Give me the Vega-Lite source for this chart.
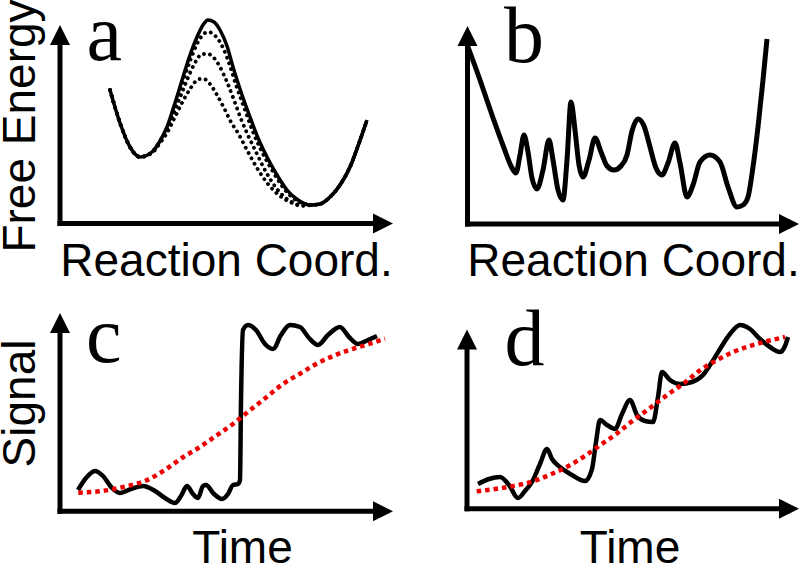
{
  "$schema": "https://vega.github.io/schema/vega-lite/v6.json",
  "padding": 0,
  "background": "white",
  "config": {
    "view": {"stroke": null},
    "concat": {"spacing": 0},
    "style": {
      "lt": {"font": "Liberation Serif", "fontSize": 80, "align": "left", "baseline": "alphabetic", "fill": "black"},
      "xt": {"font": "Liberation Sans", "fontSize": 46, "align": "center", "baseline": "alphabetic", "fill": "black"},
      "yt": {"font": "Liberation Sans", "fontSize": 46, "align": "center", "baseline": "alphabetic", "angle": 270, "fill": "black"}
    }
  },
  "data": {"values": [
    {"p":"a","k":"ax","x":60,"y":226,"x2":60,"y2":44},
    {"p":"a","k":"ax","x":57.5,"y":223.5,"x2":375,"y2":223.5},
    {"p":"a","k":"up","x":60,"y":35},
    {"p":"a","k":"rt","x":383,"y":223.5},
    {"p":"b","k":"ax","x":67.5,"y":226.5,"x2":67.5,"y2":44},
    {"p":"b","k":"ax","x":65,"y":224,"x2":381,"y2":224},
    {"p":"b","k":"up","x":67.5,"y":36},
    {"p":"b","k":"rt","x":389,"y":224},
    {"p":"c","k":"ax","x":60,"y":231.8,"x2":60,"y2":49},
    {"p":"c","k":"ax","x":57.5,"y":229.3,"x2":375,"y2":229.3},
    {"p":"c","k":"up","x":60,"y":41},
    {"p":"c","k":"rt","x":383,"y":229.3},
    {"p":"d","k":"ax","x":67,"y":229.2,"x2":67,"y2":66},
    {"p":"d","k":"ax","x":64.5,"y":226.7,"x2":381,"y2":226.7},
    {"p":"d","k":"up","x":67,"y":57.5},
    {"p":"d","k":"rt","x":389,"y":226.7},

    {"p":"a","k":"lt","x":86.5,"y":60,"t":"a"},
    {"p":"a","k":"yt","x":35,"y":126,"t":"Free Energy"},
    {"p":"a","k":"xt","x":226.5,"y":276,"t":"Reaction Coord."},
    {"p":"b","k":"lt","x":104,"y":62,"t":"b"},
    {"p":"b","k":"xt","x":233.5,"y":276,"t":"Reaction Coord."},
    {"p":"c","k":"lt","x":86,"y":80,"t":"c"},
    {"p":"c","k":"yt","x":35,"y":121.5,"t":"Signal"},
    {"p":"c","k":"xt","x":242.5,"y":281,"t":"Time"},
    {"p":"d","k":"lt","x":104.5,"y":83,"t":"d"},
    {"p":"d","k":"xt","x":230,"y":281,"t":"Time"},

    {"p":"a","k":"l","s":"a0","x":110,"y":90},
    {"p":"a","k":"l","s":"a0","x":120,"y":123},
    {"p":"a","k":"l","s":"a0","x":130,"y":147},
    {"p":"a","k":"l","s":"a0","x":140,"y":157},
    {"p":"a","k":"l","s":"a0","x":152,"y":152},
    {"p":"a","k":"l","s":"a0","x":160,"y":141},
    {"p":"a","k":"l","s":"a0","x":167,"y":127},
    {"p":"a","k":"l","s":"a0","x":175,"y":103},
    {"p":"a","k":"l","s":"a0","x":183,"y":77},
    {"p":"a","k":"l","s":"a0","x":190,"y":55},
    {"p":"a","k":"l","s":"a0","x":197,"y":37},
    {"p":"a","k":"l","s":"a0","x":203,"y":25},
    {"p":"a","k":"l","s":"a0","x":208,"y":20},
    {"p":"a","k":"l","s":"a0","x":214,"y":22},
    {"p":"a","k":"l","s":"a0","x":220,"y":30},
    {"p":"a","k":"l","s":"a0","x":227,"y":46},
    {"p":"a","k":"l","s":"a0","x":233,"y":67},
    {"p":"a","k":"l","s":"a0","x":241,"y":92},
    {"p":"a","k":"l","s":"a0","x":250,"y":117},
    {"p":"a","k":"l","s":"a0","x":258,"y":138},
    {"p":"a","k":"l","s":"a0","x":267,"y":157},
    {"p":"a","k":"l","s":"a0","x":277,"y":175},
    {"p":"a","k":"l","s":"a0","x":287,"y":190},
    {"p":"a","k":"l","s":"a0","x":298,"y":200},
    {"p":"a","k":"l","s":"a0","x":310,"y":205},
    {"p":"a","k":"l","s":"a0","x":320,"y":204},
    {"p":"a","k":"l","s":"a0","x":330,"y":197},
    {"p":"a","k":"l","s":"a0","x":340,"y":185},
    {"p":"a","k":"l","s":"a0","x":350,"y":167},
    {"p":"a","k":"l","s":"a0","x":358,"y":146},
    {"p":"a","k":"l","s":"a0","x":367,"y":120},

    {"p":"a","k":"o","s":"a1","x":110,"y":90},
    {"p":"a","k":"o","s":"a1","x":120,"y":123},
    {"p":"a","k":"o","s":"a1","x":130,"y":147},
    {"p":"a","k":"o","s":"a1","x":140,"y":157},
    {"p":"a","k":"o","s":"a1","x":152,"y":152},
    {"p":"a","k":"o","s":"a1","x":160,"y":141},
    {"p":"a","k":"o","s":"a1","x":167,"y":128},
    {"p":"a","k":"o","s":"a1","x":175,"y":105},
    {"p":"a","k":"o","s":"a1","x":183,"y":81},
    {"p":"a","k":"o","s":"a1","x":190,"y":61},
    {"p":"a","k":"o","s":"a1","x":197,"y":44},
    {"p":"a","k":"o","s":"a1","x":201,"y":37},
    {"p":"a","k":"o","s":"a1","x":205,"y":33},
    {"p":"a","k":"o","s":"a1","x":209,"y":32},
    {"p":"a","k":"o","s":"a1","x":213,"y":34},
    {"p":"a","k":"o","s":"a1","x":218,"y":39},
    {"p":"a","k":"o","s":"a1","x":224,"y":50},
    {"p":"a","k":"o","s":"a1","x":230,"y":66},
    {"p":"a","k":"o","s":"a1","x":236,"y":85},
    {"p":"a","k":"o","s":"a1","x":245,"y":110},
    {"p":"a","k":"o","s":"a1","x":253,"y":132},
    {"p":"a","k":"o","s":"a1","x":262,"y":152},
    {"p":"a","k":"o","s":"a1","x":272,"y":170},
    {"p":"a","k":"o","s":"a1","x":282,"y":186},
    {"p":"a","k":"o","s":"a1","x":293,"y":198},
    {"p":"a","k":"o","s":"a1","x":305,"y":204},
    {"p":"a","k":"o","s":"a1","x":312,"y":205},
    {"p":"a","k":"o","s":"a1","x":320,"y":204},
    {"p":"a","k":"o","s":"a1","x":330,"y":197},
    {"p":"a","k":"o","s":"a1","x":340,"y":185},
    {"p":"a","k":"o","s":"a1","x":350,"y":167},
    {"p":"a","k":"o","s":"a1","x":358,"y":146},
    {"p":"a","k":"o","s":"a1","x":367,"y":120},

    {"p":"a","k":"o","s":"a2","x":110,"y":90},
    {"p":"a","k":"o","s":"a2","x":120,"y":123},
    {"p":"a","k":"o","s":"a2","x":130,"y":147},
    {"p":"a","k":"o","s":"a2","x":140,"y":157},
    {"p":"a","k":"o","s":"a2","x":152,"y":152},
    {"p":"a","k":"o","s":"a2","x":160,"y":142},
    {"p":"a","k":"o","s":"a2","x":167,"y":130},
    {"p":"a","k":"o","s":"a2","x":175,"y":110},
    {"p":"a","k":"o","s":"a2","x":183,"y":90},
    {"p":"a","k":"o","s":"a2","x":190,"y":73},
    {"p":"a","k":"o","s":"a2","x":196,"y":61},
    {"p":"a","k":"o","s":"a2","x":202,"y":54},
    {"p":"a","k":"o","s":"a2","x":208,"y":54},
    {"p":"a","k":"o","s":"a2","x":214,"y":58},
    {"p":"a","k":"o","s":"a2","x":220,"y":67},
    {"p":"a","k":"o","s":"a2","x":227,"y":82},
    {"p":"a","k":"o","s":"a2","x":234,"y":100},
    {"p":"a","k":"o","s":"a2","x":241,"y":119},
    {"p":"a","k":"o","s":"a2","x":247,"y":133},
    {"p":"a","k":"o","s":"a2","x":256,"y":152},
    {"p":"a","k":"o","s":"a2","x":266,"y":172},
    {"p":"a","k":"o","s":"a2","x":277,"y":189},
    {"p":"a","k":"o","s":"a2","x":290,"y":201},
    {"p":"a","k":"o","s":"a2","x":302,"y":205},
    {"p":"a","k":"o","s":"a2","x":312,"y":205},
    {"p":"a","k":"o","s":"a2","x":320,"y":204},
    {"p":"a","k":"o","s":"a2","x":330,"y":197},
    {"p":"a","k":"o","s":"a2","x":340,"y":185},
    {"p":"a","k":"o","s":"a2","x":350,"y":167},
    {"p":"a","k":"o","s":"a2","x":358,"y":146},
    {"p":"a","k":"o","s":"a2","x":367,"y":120},

    {"p":"a","k":"o","s":"a3","x":110,"y":90},
    {"p":"a","k":"o","s":"a3","x":120,"y":123},
    {"p":"a","k":"o","s":"a3","x":130,"y":147},
    {"p":"a","k":"o","s":"a3","x":140,"y":157},
    {"p":"a","k":"o","s":"a3","x":152,"y":153},
    {"p":"a","k":"o","s":"a3","x":160,"y":143},
    {"p":"a","k":"o","s":"a3","x":167,"y":133},
    {"p":"a","k":"o","s":"a3","x":175,"y":117},
    {"p":"a","k":"o","s":"a3","x":183,"y":101},
    {"p":"a","k":"o","s":"a3","x":190,"y":89},
    {"p":"a","k":"o","s":"a3","x":195,"y":82},
    {"p":"a","k":"o","s":"a3","x":199,"y":79},
    {"p":"a","k":"o","s":"a3","x":204,"y":79},
    {"p":"a","k":"o","s":"a3","x":210,"y":84},
    {"p":"a","k":"o","s":"a3","x":217,"y":95},
    {"p":"a","k":"o","s":"a3","x":224,"y":108},
    {"p":"a","k":"o","s":"a3","x":231,"y":122},
    {"p":"a","k":"o","s":"a3","x":238,"y":133},
    {"p":"a","k":"o","s":"a3","x":247,"y":150},
    {"p":"a","k":"o","s":"a3","x":257,"y":168},
    {"p":"a","k":"o","s":"a3","x":268,"y":184},
    {"p":"a","k":"o","s":"a3","x":280,"y":196},
    {"p":"a","k":"o","s":"a3","x":292,"y":203},
    {"p":"a","k":"o","s":"a3","x":302,"y":206},
    {"p":"a","k":"o","s":"a3","x":312,"y":205},
    {"p":"a","k":"o","s":"a3","x":320,"y":204},
    {"p":"a","k":"o","s":"a3","x":330,"y":197},
    {"p":"a","k":"o","s":"a3","x":340,"y":185},
    {"p":"a","k":"o","s":"a3","x":350,"y":167},
    {"p":"a","k":"o","s":"a3","x":358,"y":146},
    {"p":"a","k":"o","s":"a3","x":367,"y":120},

    {"p":"b","k":"l","s":"b0","x":68,"y":47},
    {"p":"b","k":"l","s":"b0","x":80,"y":80},
    {"p":"b","k":"l","s":"b0","x":92,"y":115},
    {"p":"b","k":"l","s":"b0","x":104,"y":148},
    {"p":"b","k":"l","s":"b0","x":111,"y":166},
    {"p":"b","k":"l","s":"b0","x":116,"y":173},
    {"p":"b","k":"l","s":"b0","x":120,"y":155},
    {"p":"b","k":"l","s":"b0","x":124,"y":135},
    {"p":"b","k":"l","s":"b0","x":128,"y":152},
    {"p":"b","k":"l","s":"b0","x":132,"y":178},
    {"p":"b","k":"l","s":"b0","x":137,"y":189},
    {"p":"b","k":"l","s":"b0","x":143,"y":170},
    {"p":"b","k":"l","s":"b0","x":149,"y":140},
    {"p":"b","k":"l","s":"b0","x":153,"y":160},
    {"p":"b","k":"l","s":"b0","x":158,"y":190},
    {"p":"b","k":"l","s":"b0","x":163,"y":200},
    {"p":"b","k":"l","s":"b0","x":167,"y":160},
    {"p":"b","k":"l","s":"b0","x":171,"y":102},
    {"p":"b","k":"l","s":"b0","x":175,"y":130},
    {"p":"b","k":"l","s":"b0","x":179,"y":165},
    {"p":"b","k":"l","s":"b0","x":183,"y":177},
    {"p":"b","k":"l","s":"b0","x":189,"y":160},
    {"p":"b","k":"l","s":"b0","x":195,"y":138},
    {"p":"b","k":"l","s":"b0","x":201,"y":152},
    {"p":"b","k":"l","s":"b0","x":207,"y":166},
    {"p":"b","k":"l","s":"b0","x":214,"y":170},
    {"p":"b","k":"l","s":"b0","x":221,"y":166},
    {"p":"b","k":"l","s":"b0","x":227,"y":155},
    {"p":"b","k":"l","s":"b0","x":232,"y":131},
    {"p":"b","k":"l","s":"b0","x":238,"y":119},
    {"p":"b","k":"l","s":"b0","x":244,"y":126},
    {"p":"b","k":"l","s":"b0","x":250,"y":147},
    {"p":"b","k":"l","s":"b0","x":256,"y":168},
    {"p":"b","k":"l","s":"b0","x":262,"y":175},
    {"p":"b","k":"l","s":"b0","x":268,"y":163},
    {"p":"b","k":"l","s":"b0","x":275,"y":143},
    {"p":"b","k":"l","s":"b0","x":280,"y":163},
    {"p":"b","k":"l","s":"b0","x":287,"y":197},
    {"p":"b","k":"l","s":"b0","x":293,"y":185},
    {"p":"b","k":"l","s":"b0","x":300,"y":162},
    {"p":"b","k":"l","s":"b0","x":310,"y":155},
    {"p":"b","k":"l","s":"b0","x":320,"y":162},
    {"p":"b","k":"l","s":"b0","x":328,"y":187},
    {"p":"b","k":"l","s":"b0","x":337,"y":207},
    {"p":"b","k":"l","s":"b0","x":343,"y":205},
    {"p":"b","k":"l","s":"b0","x":348,"y":197},
    {"p":"b","k":"l","s":"b0","x":353,"y":167},
    {"p":"b","k":"l","s":"b0","x":358,"y":127},
    {"p":"b","k":"l","s":"b0","x":363,"y":80},
    {"p":"b","k":"l","s":"b0","x":367,"y":39},

    {"p":"c","k":"l","s":"c0","x":78,"y":208},
    {"p":"c","k":"l","s":"c0","x":86,"y":196},
    {"p":"c","k":"l","s":"c0","x":95,"y":189},
    {"p":"c","k":"l","s":"c0","x":103,"y":194},
    {"p":"c","k":"l","s":"c0","x":112,"y":206},
    {"p":"c","k":"l","s":"c0","x":120,"y":211},
    {"p":"c","k":"l","s":"c0","x":131,"y":207},
    {"p":"c","k":"l","s":"c0","x":143,"y":204},
    {"p":"c","k":"l","s":"c0","x":155,"y":209},
    {"p":"c","k":"l","s":"c0","x":165,"y":216},
    {"p":"c","k":"l","s":"c0","x":175,"y":221},
    {"p":"c","k":"l","s":"c0","x":181,"y":214},
    {"p":"c","k":"l","s":"c0","x":187,"y":204},
    {"p":"c","k":"l","s":"c0","x":193,"y":212},
    {"p":"c","k":"l","s":"c0","x":198,"y":216},
    {"p":"c","k":"l","s":"c0","x":203,"y":204},
    {"p":"c","k":"l","s":"c0","x":206,"y":203},
    {"p":"c","k":"l","s":"c0","x":214,"y":212},
    {"p":"c","k":"l","s":"c0","x":222,"y":217},
    {"p":"c","k":"l","s":"c0","x":228,"y":212},
    {"p":"c","k":"l","s":"c0","x":233,"y":203},
    {"p":"c","k":"l","s":"c0","x":238,"y":202},
    {"p":"c","k":"l","s":"c0","x":240,"y":198},
    {"p":"c","k":"l","s":"c0","x":241,"y":120},
    {"p":"c","k":"l","s":"c0","x":243,"y":48},
    {"p":"c","k":"l","s":"c0","x":248,"y":43},
    {"p":"c","k":"l","s":"c0","x":256,"y":48},
    {"p":"c","k":"l","s":"c0","x":265,"y":62},
    {"p":"c","k":"l","s":"c0","x":273,"y":67},
    {"p":"c","k":"l","s":"c0","x":281,"y":53},
    {"p":"c","k":"l","s":"c0","x":290,"y":43},
    {"p":"c","k":"l","s":"c0","x":300,"y":45},
    {"p":"c","k":"l","s":"c0","x":309,"y":56},
    {"p":"c","k":"l","s":"c0","x":318,"y":63},
    {"p":"c","k":"l","s":"c0","x":328,"y":53},
    {"p":"c","k":"l","s":"c0","x":340,"y":45},
    {"p":"c","k":"l","s":"c0","x":349,"y":55},
    {"p":"c","k":"l","s":"c0","x":358,"y":62},
    {"p":"c","k":"l","s":"c0","x":368,"y":58},
    {"p":"c","k":"l","s":"c0","x":377,"y":54},

    {"p":"c","k":"r","s":"c1","x":78.3,"y":210.7},
    {"p":"c","k":"r","s":"c1","x":100,"y":209.3},
    {"p":"c","k":"r","s":"c1","x":123.3,"y":205},
    {"p":"c","k":"r","s":"c1","x":150,"y":196.7},
    {"p":"c","k":"r","s":"c1","x":166.7,"y":186.7},
    {"p":"c","k":"r","s":"c1","x":183.3,"y":175},
    {"p":"c","k":"r","s":"c1","x":200,"y":165},
    {"p":"c","k":"r","s":"c1","x":216.7,"y":153.3},
    {"p":"c","k":"r","s":"c1","x":233.3,"y":141.7},
    {"p":"c","k":"r","s":"c1","x":250,"y":128.3},
    {"p":"c","k":"r","s":"c1","x":266.7,"y":115},
    {"p":"c","k":"r","s":"c1","x":283.3,"y":101.7},
    {"p":"c","k":"r","s":"c1","x":300,"y":91.7},
    {"p":"c","k":"r","s":"c1","x":316.7,"y":81.7},
    {"p":"c","k":"r","s":"c1","x":333.3,"y":74},
    {"p":"c","k":"r","s":"c1","x":350,"y":67.7},
    {"p":"c","k":"r","s":"c1","x":366.7,"y":62.7},
    {"p":"c","k":"r","s":"c1","x":385,"y":56.7},

    {"p":"d","k":"l","s":"d0","x":78,"y":202},
    {"p":"d","k":"l","s":"d0","x":89,"y":197},
    {"p":"d","k":"l","s":"d0","x":100,"y":195},
    {"p":"d","k":"l","s":"d0","x":109,"y":203},
    {"p":"d","k":"l","s":"d0","x":118,"y":216},
    {"p":"d","k":"l","s":"d0","x":125,"y":209},
    {"p":"d","k":"l","s":"d0","x":132,"y":200},
    {"p":"d","k":"l","s":"d0","x":140,"y":182},
    {"p":"d","k":"l","s":"d0","x":147,"y":167},
    {"p":"d","k":"l","s":"d0","x":152,"y":177},
    {"p":"d","k":"l","s":"d0","x":160,"y":185},
    {"p":"d","k":"l","s":"d0","x":172,"y":193},
    {"p":"d","k":"l","s":"d0","x":185,"y":199},
    {"p":"d","k":"l","s":"d0","x":192,"y":187},
    {"p":"d","k":"l","s":"d0","x":196,"y":160},
    {"p":"d","k":"l","s":"d0","x":200,"y":138},
    {"p":"d","k":"l","s":"d0","x":207,"y":143},
    {"p":"d","k":"l","s":"d0","x":215,"y":147},
    {"p":"d","k":"l","s":"d0","x":222,"y":132},
    {"p":"d","k":"l","s":"d0","x":230,"y":118},
    {"p":"d","k":"l","s":"d0","x":237,"y":133},
    {"p":"d","k":"l","s":"d0","x":245,"y":139},
    {"p":"d","k":"l","s":"d0","x":253,"y":140},
    {"p":"d","k":"l","s":"d0","x":258,"y":115},
    {"p":"d","k":"l","s":"d0","x":262,"y":90},
    {"p":"d","k":"l","s":"d0","x":270,"y":98},
    {"p":"d","k":"l","s":"d0","x":280,"y":102},
    {"p":"d","k":"l","s":"d0","x":292,"y":100},
    {"p":"d","k":"l","s":"d0","x":303,"y":93},
    {"p":"d","k":"l","s":"d0","x":312,"y":80},
    {"p":"d","k":"l","s":"d0","x":320,"y":67},
    {"p":"d","k":"l","s":"d0","x":330,"y":52},
    {"p":"d","k":"l","s":"d0","x":340,"y":43},
    {"p":"d","k":"l","s":"d0","x":350,"y":47},
    {"p":"d","k":"l","s":"d0","x":360,"y":57},
    {"p":"d","k":"l","s":"d0","x":370,"y":65},
    {"p":"d","k":"l","s":"d0","x":380,"y":70},
    {"p":"d","k":"l","s":"d0","x":385,"y":64},
    {"p":"d","k":"l","s":"d0","x":388,"y":55},

    {"p":"d","k":"r","s":"d1","x":76.7,"y":209.3},
    {"p":"d","k":"r","s":"d1","x":96.7,"y":206.7},
    {"p":"d","k":"r","s":"d1","x":116.7,"y":203.3},
    {"p":"d","k":"r","s":"d1","x":133.3,"y":199.3},
    {"p":"d","k":"r","s":"d1","x":150,"y":192.7},
    {"p":"d","k":"r","s":"d1","x":166.7,"y":185},
    {"p":"d","k":"r","s":"d1","x":183.3,"y":175},
    {"p":"d","k":"r","s":"d1","x":200,"y":163.3},
    {"p":"d","k":"r","s":"d1","x":216.7,"y":151.7},
    {"p":"d","k":"r","s":"d1","x":233.3,"y":138.3},
    {"p":"d","k":"r","s":"d1","x":250,"y":126},
    {"p":"d","k":"r","s":"d1","x":266.7,"y":113.3},
    {"p":"d","k":"r","s":"d1","x":283.3,"y":101.7},
    {"p":"d","k":"r","s":"d1","x":300,"y":88.3},
    {"p":"d","k":"r","s":"d1","x":316.7,"y":78.3},
    {"p":"d","k":"r","s":"d1","x":333.3,"y":70},
    {"p":"d","k":"r","s":"d1","x":350,"y":64},
    {"p":"d","k":"r","s":"d1","x":366.7,"y":59.3},
    {"p":"d","k":"r","s":"d1","x":385,"y":55}
  ]},
  "columns": 2,
  "spacing": 0,
  "bounds": "flush",
  "concat": [
    {
      "width": 400, "height": 282,
      "transform": [{"filter": "datum.p === 'a'"}],
      "encoding": {
        "x": {"field": "x", "type": "quantitative", "scale": {"domain": [0, 400], "nice": false, "zero": false}, "axis": null},
        "y": {"field": "y", "type": "quantitative", "scale": {"domain": [0, 282], "nice": false, "zero": false, "reverse": true}, "axis": null}
      },
      "layer": [
        {"transform": [{"filter": "datum.k === 'ax'"}], "mark": {"type": "rule", "color": "black", "strokeWidth": 5, "clip": true}, "encoding": {"x2": {"field": "x2"}, "y2": {"field": "y2"}}},
        {"transform": [{"filter": "datum.k === 'up'"}], "mark": {"type": "point", "shape": "M0,-1L1,1L-1,1Z", "size": 400, "filled": true, "color": "black", "opacity": 1, "strokeWidth": 0, "clip": true}},
        {"transform": [{"filter": "datum.k === 'rt'"}], "mark": {"type": "point", "shape": "M1,0L-1,1L-1,-1Z", "size": 400, "filled": true, "color": "black", "opacity": 1, "strokeWidth": 0, "clip": true}},
        {"transform": [{"filter": "datum.k === 'o'"}], "mark": {"type": "line", "color": "black", "strokeWidth": 3.8, "strokeCap": "round", "strokeDash": [0.1, 6], "interpolate": "monotone", "clip": true}, "encoding": {"detail": {"field": "s"}}},
        {"transform": [{"filter": "datum.k === 'l'"}], "mark": {"type": "line", "color": "black", "strokeWidth": 3.5, "interpolate": "monotone", "clip": true}, "encoding": {"detail": {"field": "s"}}},
        {"transform": [{"filter": "datum.k === 'lt'"}], "mark": {"type": "text", "style": "lt", "clip": true}, "encoding": {"text": {"field": "t"}}},
        {"transform": [{"filter": "datum.k === 'xt'"}], "mark": {"type": "text", "style": "xt", "clip": true}, "encoding": {"text": {"field": "t"}}},
        {"transform": [{"filter": "datum.k === 'yt'"}], "mark": {"type": "text", "style": "yt", "angle": 270, "clip": true}, "encoding": {"text": {"field": "t"}}}
      ]
    },
    {
      "width": 400, "height": 282,
      "transform": [{"filter": "datum.p === 'b'"}],
      "encoding": {
        "x": {"field": "x", "type": "quantitative", "scale": {"domain": [0, 400], "nice": false, "zero": false}, "axis": null},
        "y": {"field": "y", "type": "quantitative", "scale": {"domain": [0, 282], "nice": false, "zero": false, "reverse": true}, "axis": null}
      },
      "layer": [
        {"transform": [{"filter": "datum.k === 'ax'"}], "mark": {"type": "rule", "color": "black", "strokeWidth": 5, "clip": true}, "encoding": {"x2": {"field": "x2"}, "y2": {"field": "y2"}}},
        {"transform": [{"filter": "datum.k === 'up'"}], "mark": {"type": "point", "shape": "M0,-1L1,1L-1,1Z", "size": 400, "filled": true, "color": "black", "opacity": 1, "strokeWidth": 0, "clip": true}},
        {"transform": [{"filter": "datum.k === 'rt'"}], "mark": {"type": "point", "shape": "M1,0L-1,1L-1,-1Z", "size": 400, "filled": true, "color": "black", "opacity": 1, "strokeWidth": 0, "clip": true}},
        {"transform": [{"filter": "datum.k === 'l'"}], "mark": {"type": "line", "color": "black", "strokeWidth": 5, "interpolate": "monotone", "clip": true}, "encoding": {"detail": {"field": "s"}}},
        {"transform": [{"filter": "datum.k === 'lt'"}], "mark": {"type": "text", "style": "lt", "clip": true}, "encoding": {"text": {"field": "t"}}},
        {"transform": [{"filter": "datum.k === 'xt'"}], "mark": {"type": "text", "style": "xt", "clip": true}, "encoding": {"text": {"field": "t"}}}
      ]
    },
    {
      "width": 400, "height": 282,
      "transform": [{"filter": "datum.p === 'c'"}],
      "encoding": {
        "x": {"field": "x", "type": "quantitative", "scale": {"domain": [0, 400], "nice": false, "zero": false}, "axis": null},
        "y": {"field": "y", "type": "quantitative", "scale": {"domain": [0, 282], "nice": false, "zero": false, "reverse": true}, "axis": null}
      },
      "layer": [
        {"transform": [{"filter": "datum.k === 'ax'"}], "mark": {"type": "rule", "color": "black", "strokeWidth": 5, "clip": true}, "encoding": {"x2": {"field": "x2"}, "y2": {"field": "y2"}}},
        {"transform": [{"filter": "datum.k === 'up'"}], "mark": {"type": "point", "shape": "M0,-1L1,1L-1,1Z", "size": 400, "filled": true, "color": "black", "opacity": 1, "strokeWidth": 0, "clip": true}},
        {"transform": [{"filter": "datum.k === 'rt'"}], "mark": {"type": "point", "shape": "M1,0L-1,1L-1,-1Z", "size": 400, "filled": true, "color": "black", "opacity": 1, "strokeWidth": 0, "clip": true}},
        {"transform": [{"filter": "datum.k === 'l'"}], "mark": {"type": "line", "color": "black", "strokeWidth": 4.5, "interpolate": "monotone", "clip": true}, "encoding": {"detail": {"field": "s"}}},
        {"transform": [{"filter": "datum.k === 'r'"}], "mark": {"type": "line", "color": "#ee0000", "strokeWidth": 4.5, "strokeDash": [4.5, 4], "interpolate": "monotone", "clip": true}, "encoding": {"detail": {"field": "s"}}},
        {"transform": [{"filter": "datum.k === 'lt'"}], "mark": {"type": "text", "style": "lt", "clip": true}, "encoding": {"text": {"field": "t"}}},
        {"transform": [{"filter": "datum.k === 'xt'"}], "mark": {"type": "text", "style": "xt", "clip": true}, "encoding": {"text": {"field": "t"}}},
        {"transform": [{"filter": "datum.k === 'yt'"}], "mark": {"type": "text", "style": "yt", "angle": 270, "clip": true}, "encoding": {"text": {"field": "t"}}}
      ]
    },
    {
      "width": 400, "height": 282,
      "transform": [{"filter": "datum.p === 'd'"}],
      "encoding": {
        "x": {"field": "x", "type": "quantitative", "scale": {"domain": [0, 400], "nice": false, "zero": false}, "axis": null},
        "y": {"field": "y", "type": "quantitative", "scale": {"domain": [0, 282], "nice": false, "zero": false, "reverse": true}, "axis": null}
      },
      "layer": [
        {"transform": [{"filter": "datum.k === 'ax'"}], "mark": {"type": "rule", "color": "black", "strokeWidth": 5, "clip": true}, "encoding": {"x2": {"field": "x2"}, "y2": {"field": "y2"}}},
        {"transform": [{"filter": "datum.k === 'up'"}], "mark": {"type": "point", "shape": "M0,-1L1,1L-1,1Z", "size": 400, "filled": true, "color": "black", "opacity": 1, "strokeWidth": 0, "clip": true}},
        {"transform": [{"filter": "datum.k === 'rt'"}], "mark": {"type": "point", "shape": "M1,0L-1,1L-1,-1Z", "size": 400, "filled": true, "color": "black", "opacity": 1, "strokeWidth": 0, "clip": true}},
        {"transform": [{"filter": "datum.k === 'l'"}], "mark": {"type": "line", "color": "black", "strokeWidth": 4.5, "interpolate": "monotone", "clip": true}, "encoding": {"detail": {"field": "s"}}},
        {"transform": [{"filter": "datum.k === 'r'"}], "mark": {"type": "line", "color": "#ee0000", "strokeWidth": 4.5, "strokeDash": [4.5, 4], "interpolate": "monotone", "clip": true}, "encoding": {"detail": {"field": "s"}}},
        {"transform": [{"filter": "datum.k === 'lt'"}], "mark": {"type": "text", "style": "lt", "clip": true}, "encoding": {"text": {"field": "t"}}},
        {"transform": [{"filter": "datum.k === 'xt'"}], "mark": {"type": "text", "style": "xt", "clip": true}, "encoding": {"text": {"field": "t"}}}
      ]
    }
  ]
}
